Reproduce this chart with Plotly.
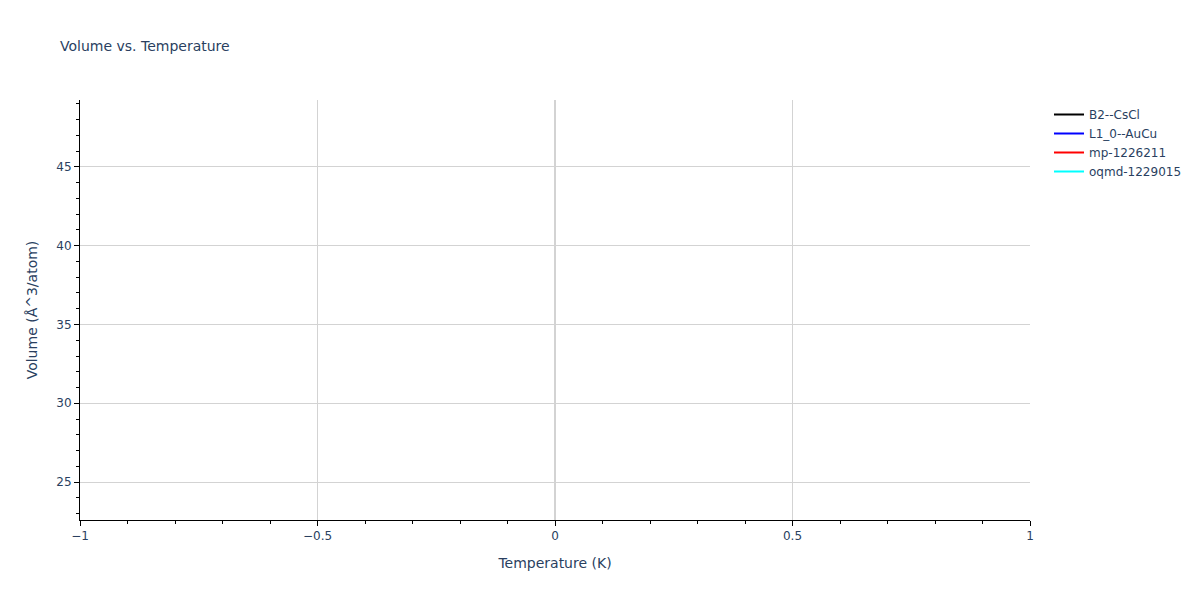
import plotly.graph_objects as go

# structures and their (single) sampled point
names = ["B2--CsCl", "L1_0--AuCu", "mp-1226211", "oqmd-1229015"]
colors = ["black", "blue", "red", "cyan"]
temperature = [[0], [0], [0], [0]]
volume = [[24.0], [26.5], [45.0], [48.0]]

fig = go.Figure()
for n, c, t, v in zip(names, colors, temperature, volume):
    fig.add_trace(go.Scatter(x=t, y=v, mode="lines", name=n,
                             line=dict(color=c, width=2)))

axis_style = dict(
    showline=True, linecolor="black", linewidth=1,
    ticks="outside", tickcolor="black", ticklen=5,
    gridcolor="lightgrey", zerolinecolor="lightgrey", zerolinewidth=2,
)

fig.update_layout(
    template="plotly_white",
    font=dict(family="DejaVu Sans, Verdana, sans-serif", size=12),
    title=dict(text="Volume vs. Temperature", x=0.0433, y=0.945,
               font=dict(size=14)),
    width=1200, height=600,
    margin=dict(l=72, r=178, t=92, b=88),
    xaxis=dict(title="Temperature (K)", range=[-1, 1], dtick=0.5,
               minor=dict(dtick=0.1, ticks="outside", ticklen=3, tickcolor="black", showgrid=False),
               **axis_style),
    yaxis=dict(title="Volume (Å^3/atom)", range=[22.59, 49.25], dtick=5,
               minor=dict(dtick=1, ticks="outside", ticklen=3, tickcolor="black", showgrid=False),
               **axis_style),
    legend=dict(x=1.02, y=1, font=dict(size=12)),
)

fig.write_html("out.html")
